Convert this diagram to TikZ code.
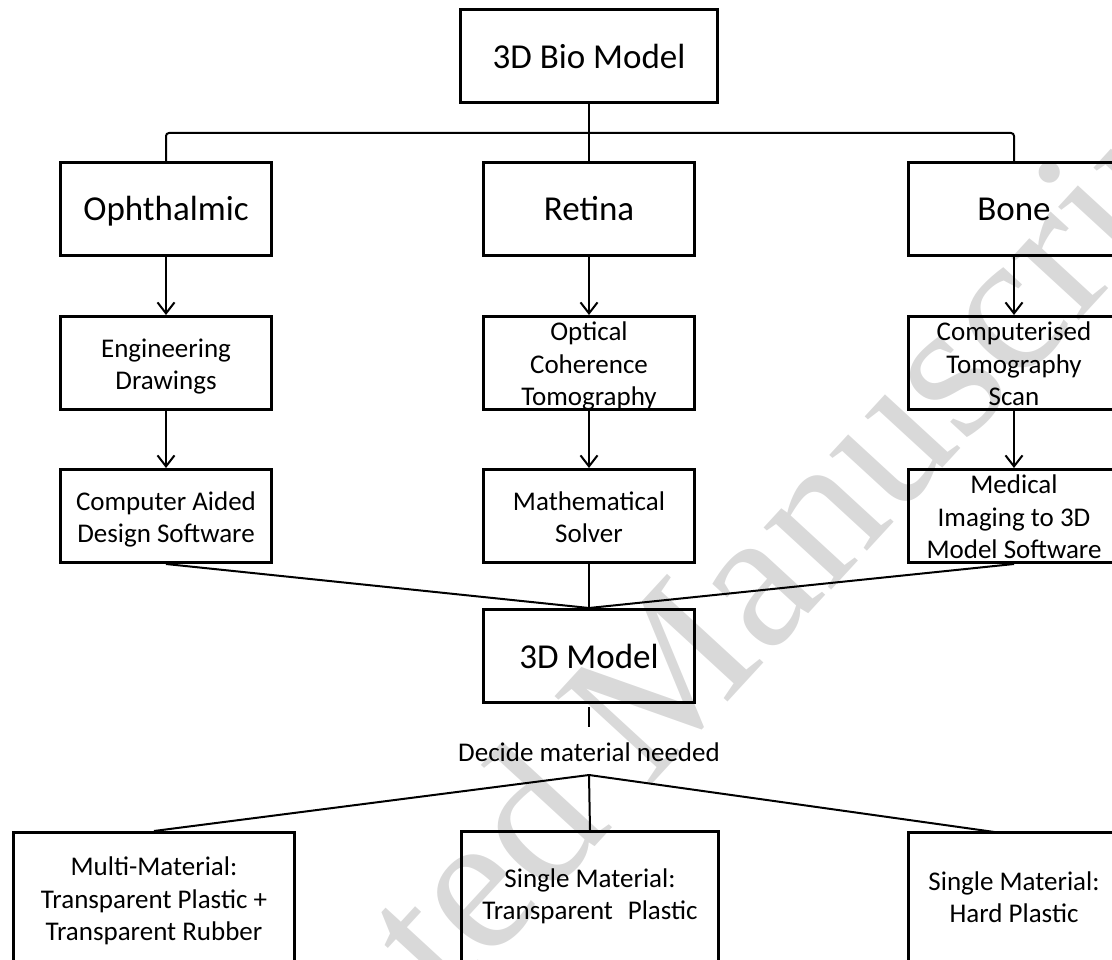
\documentclass[tikz,border=0pt]{standalone}
\usepackage{fontspec}
\setmainfont{Carlito}
\newfontfamily\wmfont{Liberation Serif}
\usetikzlibrary{arrows.meta}
\begin{document}
\begin{tikzpicture}[x=1pt,y=-1pt,
  box/.style={draw, line width=3pt, minimum width=211pt, minimum height=93pt, inner sep=0pt},
  txt/.style={inner sep=0pt, align=center, font=\fontsize{27}{32.5}\selectfont,
    execute at begin node={\rule{0pt}{22pt}}, execute at end node={\rule[-6pt]{0pt}{6pt}}},
  bigbox/.style={draw, line width=3pt, minimum width=211pt, minimum height=93pt,
    inner sep=0pt, align=center, font=\fontsize{35}{42}\selectfont,
    text height=23pt, text depth=0pt},
  conn/.style={line width=2pt},
  arr/.style={conn, -{Straight Barb[length=11pt,width=17pt,line width=2pt]}},
  wm/.style={text=black!15, font=\wmfont\fontsize{200}{200}\selectfont, inner sep=0pt}]
\useasboundingbox (0,0) rectangle (1112,960);
\clip (0,0) rectangle (1112,960);
\node[wm, rotate=47.4] (watermark) at (648,718) {Accepted Manuscript};

\node[bigbox, minimum width=257pt, text height=25pt] (bio) at (589,56) {3D Bio Model};
\node[bigbox] (oph) at (166,209) {Ophthalmic};
\node[bigbox] (ret) at (589,209) {Retina};
\node[bigbox] (bone) at (1014,209) {Bone};

\node[box] (eng) at (166,363) {};
\node[box] (oct) at (589,363) {};
\node[box] (ct) at (1014,363) {};
\node[txt] (engt) at ([yshift=-4pt]eng.center) {Engineering\\Drawings};
\node[txt] (octt) at ([yshift=-4pt]oct.center) {Optical\\Coherence\\Tomography};
\node[txt] (ctt) at ([yshift=-4pt]ct.center) {Computerised\\Tomography\\Scan};

\node[box] (cad) at (166,516) {};
\node[box] (math) at (589,516) {};
\node[box] (med) at (1014,516) {};
\node[txt] (cadt) at ([yshift=-4pt]cad.center) {Computer Aided\\Design Software};
\node[txt] (matht) at ([yshift=-4pt]math.center) {Mathematical\\Solver};
\node[txt] (medt) at ([yshift=-4pt]med.center) {Medical\\Imaging to 3D\\Model Software};

\node[bigbox, text height=25pt] (model) at (589,656) {3D Model};
\node[font=\fontsize{27}{32}\selectfont, inner sep=0pt] (decide) at (589,752) {Decide material needed};
\coordinate (stub) at (589,727);
\coordinate (split) at (589,775);

\node[box, minimum width=281pt, minimum height=135pt] (multi) at (154,900) {};
\node[box, minimum width=257pt, minimum height=131pt] (single) at (590,897) {};
\node[box, minimum width=211pt, minimum height=135pt] (hard) at (1014,900) {};
\node[txt] (multit) at ([yshift=-2pt]multi.center) {Multi-Material:\\Transparent Plastic +\\Transparent Rubber};
\node[txt] (singlet) at (single.center) {Single Material:\\Transparent\hspace{0.55em}Plastic};
\node[txt] (hardt) at (hard.center) {Single Material:\\Hard Plastic};
\coordinate (hardtop) at (998,832.5);
\coordinate (hub) at (589,133);

\draw[conn, rounded corners=3pt] (oph.north) |- (hub) -| (bone.north);
\draw[conn] (bio.south) -- (ret.north);

\draw[arr] (oph.south) -- (eng.north);
\draw[arr] (ret.south) -- (oct.north);
\draw[arr] (bone.south) -- (ct.north);
\draw[arr] (eng.south) -- (cad.north);
\draw[arr] (oct.south) -- (math.north);
\draw[arr] (ct.south) -- (med.north);

\draw[conn] (cad.south) -- (model.north);
\draw[conn] (math.south) -- (model.north);
\draw[conn] (med.south) -- (model.north);
\draw[conn, shorten <=3pt] (model.south) -- (stub);

\draw[conn] (split) -- (multi.north);
\draw[conn] (split) -- (single.north);
\draw[conn] (split) -- (hardtop);
\end{tikzpicture}
\end{document}
